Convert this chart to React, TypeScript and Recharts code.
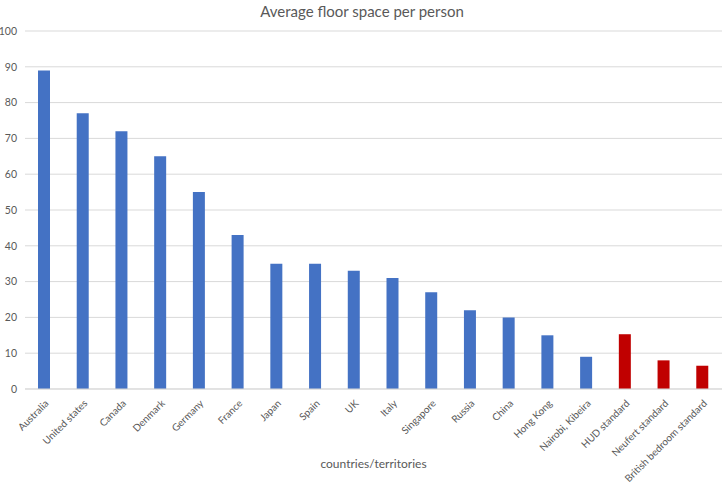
import React from 'react';
import { BarChart, Bar, XAxis, YAxis, CartesianGrid, Cell } from 'recharts';

// Categories and values
const CATEGORIES = [
  'Australia', 'United states', 'Canada', 'Denmark', 'Germany', 'France',
  'Japan', 'Spain', 'UK', 'Italy', 'Singapore', 'Russia', 'China',
  'Hong Kong', 'Nairobi, Kibeira', 'HUD standard', 'Neufert standard',
  'British bedroom standard',
];
const FLOOR_SPACE = [89, 77, 72, 65, 55, 43, 35, 35, 33, 31, 27, 22, 20, 15, 9, 15.3, 8, 6.5];
const IS_STANDARD = [false, false, false, false, false, false, false, false, false, false, false, false, false, false, false, true, true, true];
const Y_TICKS = [0, 10, 20, 30, 40, 50, 60, 70, 80, 90, 100];

const BLUE = '#4472C4';
const RED = '#C00000';
const FONT = 'Lato, "Open Sans", sans-serif';

const data = CATEGORIES.map((name, i) => ({
  name,
  value: FLOOR_SPACE[i],
  standard: IS_STANDARD[i],
}));

export default function App() {
  return (
    <div style={{ position: 'absolute', left: 0, top: 0, width: 724, height: 484, background: '#fff', fontFamily: FONT }}>
      <div
        style={{
          position: 'absolute',
          top: 2,
          left: 0,
          width: 724,
          textAlign: 'center',
          fontSize: 15,
          color: '#595959',
        }}
      >
        Average floor space per person
      </div>
      <BarChart
        width={724}
        height={484}
        data={data}
        margin={{ top: 31, right: 2, bottom: 0, left: 0 }}
        barCategoryGap={0}
      >
        <CartesianGrid vertical={false} stroke="#d9d9d9" />
        <XAxis
          dataKey="name"
          interval={0}
          angle={-45}
          textAnchor="end"
          height={95}
          tickLine={false}
          tickMargin={4}
          axisLine={{ stroke: '#d9d9d9' }}
          tick={{ fill: '#595959', fontSize: 10, fontFamily: FONT }}
          label={{
            value: 'countries/territories',
            position: 'insideBottom',
            offset: 16,
            fill: '#595959',
            fontSize: 12,
            fontFamily: FONT,
          }}
        />
        <YAxis
          width={25}
          domain={[0, 100]}
          ticks={Y_TICKS}
          tickLine={false}
          axisLine={false}
          tick={{ fill: '#595959', fontSize: 10.5, fontFamily: FONT }}
        />
        <Bar dataKey="value" barSize={12} isAnimationActive={false}>
          {data.map((d, i) => (
            <Cell key={`cell-${i}`} fill={d.standard ? RED : BLUE} />
          ))}
        </Bar>
      </BarChart>
    </div>
  );
}
